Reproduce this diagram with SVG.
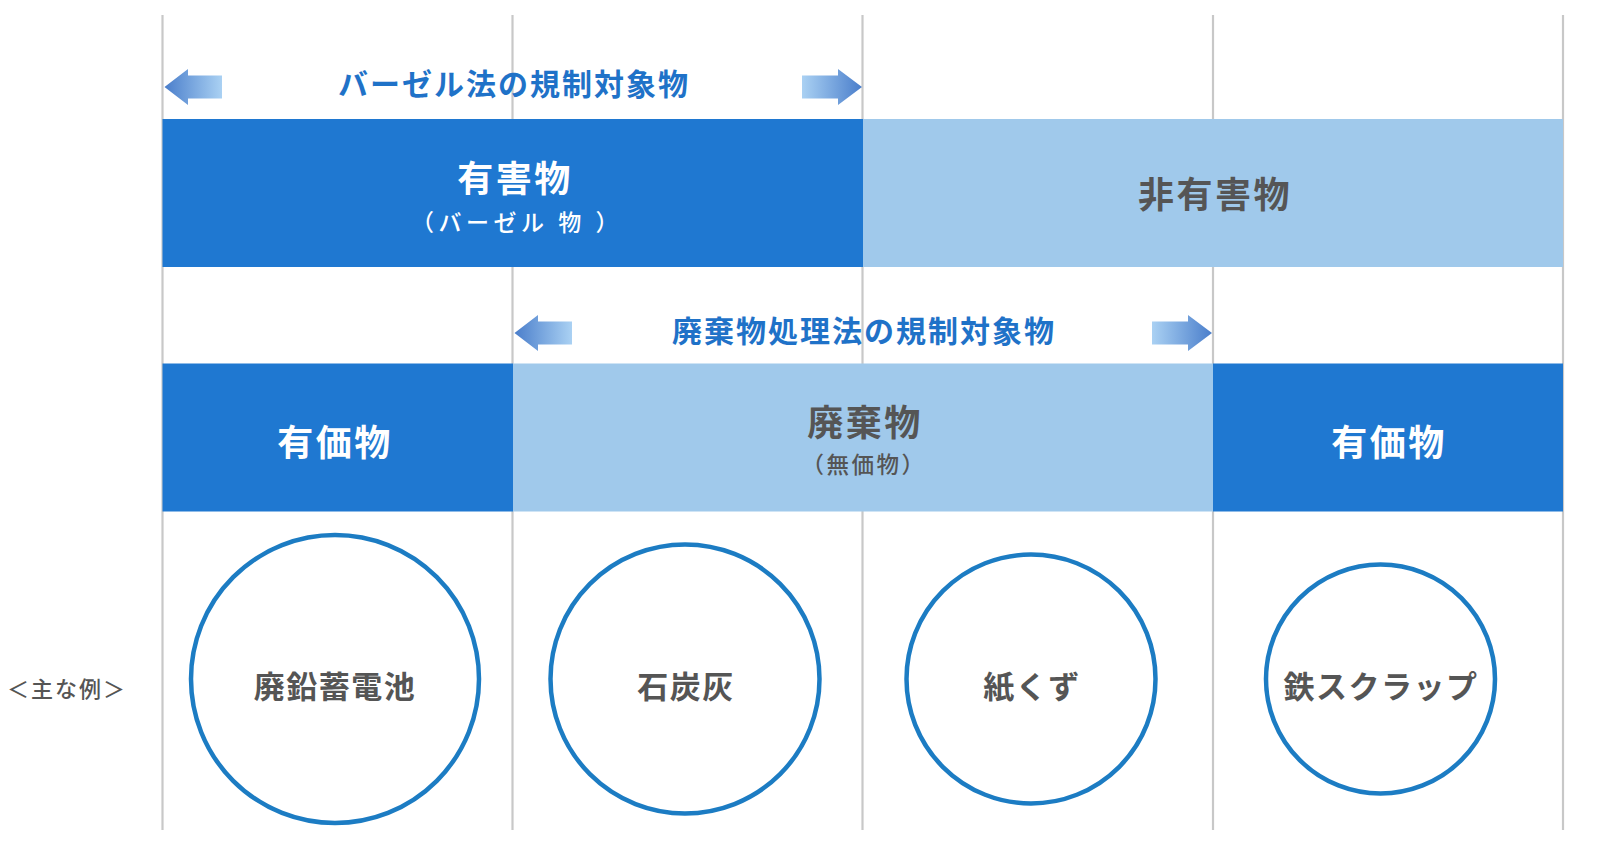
<svg xmlns="http://www.w3.org/2000/svg" width="1601" height="845" viewBox="0 0 1601 845">
<defs>
<linearGradient id="gl" x1="0" y1="0" x2="1" y2="0">
<stop offset="0" stop-color="#4a7ecb"/>
<stop offset="1" stop-color="#aad1f3"/>
</linearGradient>
<linearGradient id="gr" x1="0" y1="0" x2="1" y2="0">
<stop offset="0" stop-color="#aad1f3"/>
<stop offset="1" stop-color="#4a7ecb"/>
</linearGradient>
</defs>
<style>
.grid{stroke:#c8c8c8;stroke-width:2.2;fill:none}
.dark{fill:#1f78d1}
.light{fill:#a0c9eb}
.t{font-family:"Noto Sans CJK JP","Noto Sans",sans-serif;text-anchor:middle;dominant-baseline:central}
.title{font-size:30px;font-weight:700;fill:#1f72c8;letter-spacing:2px}
.big{font-size:36px;font-weight:700;letter-spacing:2.5px}
.sub{font-size:23px;font-weight:500;letter-spacing:4.5px}
.w{fill:#ffffff}
.g{fill:#555555}
.circ{fill:#ffffff;stroke:#1c7cc3;stroke-width:4.5}
.ex{font-size:31px;font-weight:700;fill:#555555;letter-spacing:1.5px}
</style>
<rect width="1601" height="845" fill="#ffffff"/>
<g id="grid">
<line class="grid" x1="162.5" y1="15" x2="162.5" y2="830"/>
<line class="grid" x1="512.5" y1="15" x2="512.5" y2="830"/>
<line class="grid" x1="862.5" y1="15" x2="862.5" y2="830"/>
<line class="grid" x1="1213" y1="15" x2="1213" y2="830"/>
<line class="grid" x1="1563" y1="15" x2="1563" y2="830"/>
</g>
<g id="connectors">
<path d="M164.5,87 L188,69 L188,75.5 L222,75.5 L222,98.5 L188,98.5 L188,105 Z" fill="url(#gl)"/>
<path d="M802,75.5 L838,75.5 L838,69 L862,87 L838,105 L838,98.5 L802,98.5 Z" fill="url(#gr)"/>
<path d="M514.5,333 L538,315 L538,321.5 L572,321.5 L572,344.5 L538,344.5 L538,351 Z" fill="url(#gl)"/>
<path d="M1152,321.5 L1188,321.5 L1188,315 L1212,333 L1188,351 L1188,344.5 L1152,344.5 Z" fill="url(#gr)"/>
</g>
<g id="title-basel">
<text class="t title" x="514" y="82">バーゼル法の規制対象物</text>
</g>
<g id="title-waste">
<text class="t title" x="864" y="329">廃棄物処理法の規制対象物</text>
</g>
<g id="hazardous">
<rect class="dark" x="162.5" y="119" width="700.5" height="148"/>
<text class="t big w" x="515" y="176">有害物</text>
<text class="t sub w" x="517" y="220.5">（バーゼル 物 ）</text>
</g>
<g id="non-hazardous">
<rect class="light" x="863" y="119" width="700" height="148"/>
<text class="t big g" x="1215" y="192">非有害物</text>
</g>
<g id="valuable-left">
<rect class="dark" x="162.5" y="363.5" width="350.5" height="148"/>
<text class="t big w" x="335" y="440">有価物</text>
</g>
<g id="waste">
<rect class="light" x="513" y="363.5" width="700" height="148"/>
<text class="t big g" x="865" y="419.5">廃棄物</text>
<text class="t g" x="864" y="462.5" style="font-size:22.5px;font-weight:500;letter-spacing:2.5px">（無価物）</text>
</g>
<g id="valuable-right">
<rect class="dark" x="1213" y="363.5" width="350" height="148"/>
<text class="t big w" x="1389" y="440">有価物</text>
</g>
<g id="examples-label">
<text class="t g" x="67" y="687" style="font-size:22px;font-weight:500;letter-spacing:2px">＜主な例＞</text>
</g>
<g id="ex1">
<circle class="circ" cx="335" cy="679" r="144"/>
<text class="t ex" x="335" y="684">廃鉛蓄電池</text>
</g>
<g id="ex2">
<circle class="circ" cx="685" cy="679" r="134.5"/>
<text class="t ex" x="686" y="684">石炭灰</text>
</g>
<g id="ex3">
<circle class="circ" cx="1031" cy="679" r="124.5"/>
<text class="t ex" x="1032" y="684">紙くず</text>
</g>
<g id="ex4">
<circle class="circ" cx="1380.5" cy="679" r="114.5"/>
<text class="t ex" x="1381" y="684">鉄スクラップ</text>
</g>
</svg>
